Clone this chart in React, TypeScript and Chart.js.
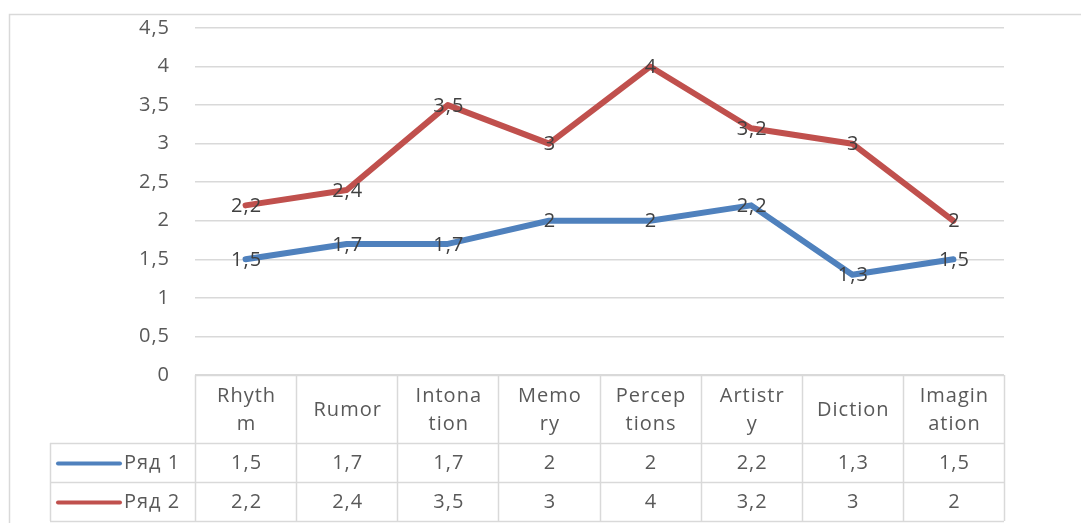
import React, { useEffect, useRef } from "react";
import { Chart, registerables } from "chart.js";

Chart.register(...registerables);

const categories = ["Rhythm", "Rumor", "Intonation", "Memory", "Perceptions", "Artistry", "Diction", "Imagination"];
const headerLines = [["Rhyth", "m"], ["Rumor"], ["Intona", "tion"], ["Memo", "ry"], ["Percep", "tions"], ["Artistr", "y"], ["Diction"], ["Imagin", "ation"]];
const series1Name = "Ряд 1";
const series2Name = "Ряд 2";
const series1 = [1.5, 1.7, 1.7, 2, 2, 2.2, 1.3, 1.5];
const series2 = [2.2, 2.4, 3.5, 3, 4, 3.2, 3, 2];
const yMin = 0;
const yMax = 4.5;
const yStep = 0.5;

const BLUE = "#4F81BD";
const RED = "#C0504D";
const GRID = "#D9D9D9";
const FONT_FAMILY = "'Open Sans', sans-serif";
const FONT_SIZE = 20;
const SPACING = "1px";

const fmt = (v: number) => String(v).replace(".", ",");

const tablePlugin = {
  id: "excelTable",
  beforeDraw(chart: any) {
    const ctx = chart.ctx;
    ctx.letterSpacing = SPACING;
    ctx.save();
    ctx.fillStyle = "#ffffff";
    ctx.fillRect(0, 0, chart.width, chart.height);
    ctx.strokeStyle = GRID;
    ctx.lineWidth = 1.5;
    ctx.strokeRect(9.5, 14.5, chart.width + 20, chart.height + 20);
    ctx.restore();
  },
  afterDatasetsDraw(chart: any) {
    const ctx = chart.ctx;
    ctx.save();
    ctx.letterSpacing = SPACING;
    ctx.font = `${FONT_SIZE}px ${FONT_FAMILY}`;
    ctx.fillStyle = "#404040";
    ctx.textAlign = "center";
    ctx.textBaseline = "middle";
    chart.data.datasets.forEach((ds: any, di: number) => {
      const meta = chart.getDatasetMeta(di);
      meta.data.forEach((pt: any, i: number) => {
        ctx.fillText(fmt(ds.data[i]), pt.x + 1, pt.y + 1);
      });
    });
    ctx.restore();
  },
  afterDraw(chart: any) {
    const ctx = chart.ctx;
    const xs = chart.scales.x;
    const area = chart.chartArea;
    const n = categories.length;
    const w = (area.right - area.left) / n;
    const top = 375;
    const hdrBottom = 443;
    const r1Bottom = 482;
    const r2Bottom = 521;
    const legLeft = 50;
    ctx.save();
    ctx.letterSpacing = SPACING;
    ctx.strokeStyle = GRID;
    ctx.lineWidth = 1.5;
    const hline = (x1: number, x2: number, y: number) => {
      ctx.beginPath();
      ctx.moveTo(x1, y + 0.5);
      ctx.lineTo(x2, y + 0.5);
      ctx.stroke();
    };
    const vline = (x: number, y1: number, y2: number) => {
      ctx.beginPath();
      ctx.moveTo(x + 0.5, y1);
      ctx.lineTo(x + 0.5, y2);
      ctx.stroke();
    };
    hline(area.left, area.right, top);
    hline(legLeft, area.right, hdrBottom);
    hline(legLeft, area.right, r1Bottom);
    hline(legLeft, area.right, r2Bottom);
    for (let i = 0; i <= n; i++) {
      vline(Math.round(area.left + i * w), top, r2Bottom);
    }
    vline(legLeft, hdrBottom, r2Bottom);

    ctx.font = `${FONT_SIZE}px ${FONT_FAMILY}`;
    ctx.fillStyle = "#595959";
    ctx.textAlign = "center";
    ctx.textBaseline = "middle";
    const hdrMid = (top + hdrBottom) / 2 + 1;
    categories.forEach((_c, i) => {
      const cx = xs.getPixelForValue(i) + 1;
      const lines = headerLines[i];
      const lh = 28;
      lines.forEach((ln, li) => {
        const y = hdrMid + (li - (lines.length - 1) / 2) * lh;
        ctx.fillText(ln, cx, y);
      });
    });
    const rows = [
      { name: series1Name, data: series1, color: BLUE, mid: (hdrBottom + r1Bottom) / 2 + 1 },
      { name: series2Name, data: series2, color: RED, mid: (r1Bottom + r2Bottom) / 2 + 1 },
    ];
    rows.forEach((r) => {
      r.data.forEach((v, i) => {
        ctx.fillStyle = "#595959";
        ctx.textAlign = "center";
        ctx.fillText(fmt(v), xs.getPixelForValue(i) + 1, r.mid);
      });
      ctx.strokeStyle = r.color;
      ctx.lineWidth = 4;
      ctx.lineCap = "round";
      ctx.beginPath();
      ctx.moveTo(58, r.mid);
      ctx.lineTo(120, r.mid);
      ctx.stroke();
      ctx.fillStyle = "#595959";
      ctx.textAlign = "left";
      ctx.fillText(r.name, 124, r.mid);
    });
    ctx.restore();
  },
};

export default function App() {
  const canvasRef = useRef<HTMLCanvasElement | null>(null);
  useEffect(() => {
    if (!canvasRef.current) return;
    const chart = new Chart(canvasRef.current, {
      type: "line",
      data: {
        labels: categories,
        datasets: [
          {
            label: series1Name,
            data: series1,
            borderColor: BLUE,
            backgroundColor: BLUE,
            borderWidth: 6,
            pointRadius: 0,
            tension: 0,
            borderJoinStyle: "round",
            borderCapStyle: "round",
          },
          {
            label: series2Name,
            data: series2,
            borderColor: RED,
            backgroundColor: RED,
            borderWidth: 6,
            pointRadius: 0,
            tension: 0,
            borderJoinStyle: "round",
            borderCapStyle: "round",
          },
        ],
      },
      options: {
        responsive: false,
        animation: false,
        devicePixelRatio: 1,
        layout: { padding: { left: 0, right: 77, top: 28, bottom: 148 } },
        plugins: { legend: { display: false }, tooltip: { enabled: false } },
        scales: {
          x: {
            type: "category",
            display: false,
            offset: true,
          },
          y: {
            min: yMin,
            max: yMax,
            afterFit: (s: any) => {
              s.width = 195;
              s.paddingTop = 0;
              s.paddingBottom = 0;
            },
            ticks: {
              stepSize: yStep,
              padding: 25,
              color: "#595959",
              font: { family: FONT_FAMILY, size: FONT_SIZE },
              callback: (v: any) => fmt(Number(v)),
            },
            grid: { color: GRID, lineWidth: 1.5, drawTicks: false },
            border: { display: false },
          },
        },
      },
      plugins: [tablePlugin],
    });
    return () => chart.destroy();
  }, []);
  return (
    <div style={{ position: "fixed", left: 0, top: 0, width: 1081, height: 523, background: "#fff" }}>
      <canvas ref={canvasRef} width={1081} height={523} style={{ display: "block", width: 1081, height: 523 }} />
    </div>
  );
}
